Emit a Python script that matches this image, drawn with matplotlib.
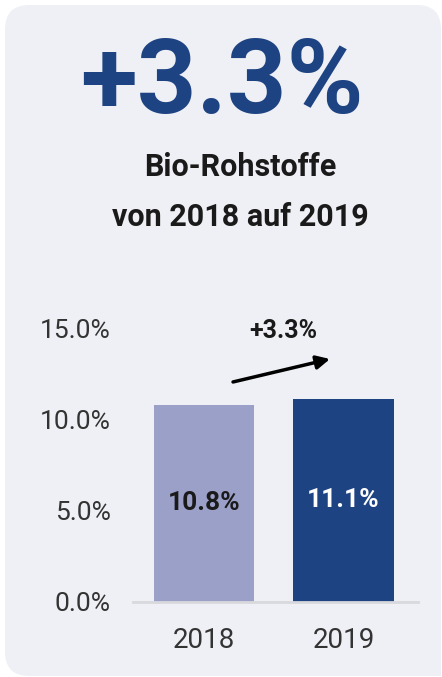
import numpy as np
import matplotlib
matplotlib.use("Agg")
import matplotlib.pyplot as plt
from matplotlib.patches import FancyBboxPatch, Rectangle
from matplotlib.ticker import FuncFormatter

# Daten
jahre = ["2018", "2019"]
anteile = [10.8, 11.1]
veraenderung = "+3.3%"
titel = "Bio-Rohstoffe"
untertitel = "von 2018 auf 2019"
y_ticks = [0, 5, 10, 15]

W, H = 442, 677
plt.rcParams["font.family"] = ["Roboto", "DejaVu Sans"]

fig = plt.figure(figsize=(W / 100, H / 100), dpi=100)
fig.patch.set_facecolor("white")

karte = "#eff0f5"
dunkelblau = "#1e4383"
hellblau = "#9ba0c8"


def px(x, y):
    return x / W, 1 - y / H


# Hintergrund-Karte (abgerundet)
card = FancyBboxPatch((5 / W, 1 - 676 / H), (441 - 5) / W, (676 - 5) / H,
                      boxstyle="round,pad=0,rounding_size=0.055",
                      transform=fig.transFigure, facecolor=karte,
                      edgecolor="none", mutation_aspect=W / H, zorder=0)
fig.patches.append(card)
fig.patches.append(Rectangle((380 / W, 1 / H), 61 / W, 60 / H, transform=fig.transFigure,
                             facecolor=karte, edgecolor="none", zorder=0))

# Überschriften
fig.text(*px(222, 85), veraenderung, ha="center", va="center", fontsize=75,
         fontweight="bold", color=dunkelblau)
fig.text(*px(240, 167), titel, ha="center", va="center", fontsize=22,
         fontweight="bold", color="#1a1a1a")
fig.text(*px(240, 217), untertitel, ha="center", va="center", fontsize=22,
         fontweight="bold", color="#1a1a1a")

# Diagramm
ax = fig.add_axes([133 / W, (H - 601.5) / H, (418 - 133) / W, (601.5 - 328) / H])
ax.set_zorder(2)
ax.set_facecolor("none")
x = np.arange(len(jahre))
bars = ax.bar(x, anteile, width=0.717, color=[hellblau, dunkelblau], zorder=2)
ax.set_xlim(-0.509, 1.534)
ax.set_ylim(0, 15)
ax.set_yticks(y_ticks)
ax.yaxis.set_major_formatter(FuncFormatter(lambda v, p: f"{v:.1f}%"))
ax.set_xticks(x)
ax.set_xticklabels(jahre)
ax.tick_params(axis="y", length=0, pad=16, labelsize=19, labelcolor="#333333")
ax.tick_params(axis="x", length=0, pad=18, labelsize=20, labelcolor="#333333")
for s in ["top", "right", "left"]:
    ax.spines[s].set_visible(False)
ax.spines["bottom"].set_color("#d8d9dd")
ax.spines["bottom"].set_linewidth(2)

for i, (b, v) in enumerate(zip(bars, anteile)):
    ax.text(b.get_x() + b.get_width() / 2, v / 2, f"{v:.1f}%", ha="center",
            va="center", fontsize=19, fontweight="bold",
            color="#1a1a1a" if i == 0 else "white")

# Pfeil mit Veränderung
ax.annotate("", xy=(0.903, 13.3), xytext=(0.208, 12.04),
            arrowprops=dict(arrowstyle="-|>,head_length=0.8,head_width=0.4",
                            color="black", lw=2.5, shrinkA=0, shrinkB=0),
            annotation_clip=False)
ax.text(0.57, 14.84, veraenderung, ha="center", va="center", fontsize=18,
        fontweight="bold", color="#1a1a1a", clip_on=False)

fig.savefig("out.png", dpi=100, facecolor=fig.get_facecolor())
